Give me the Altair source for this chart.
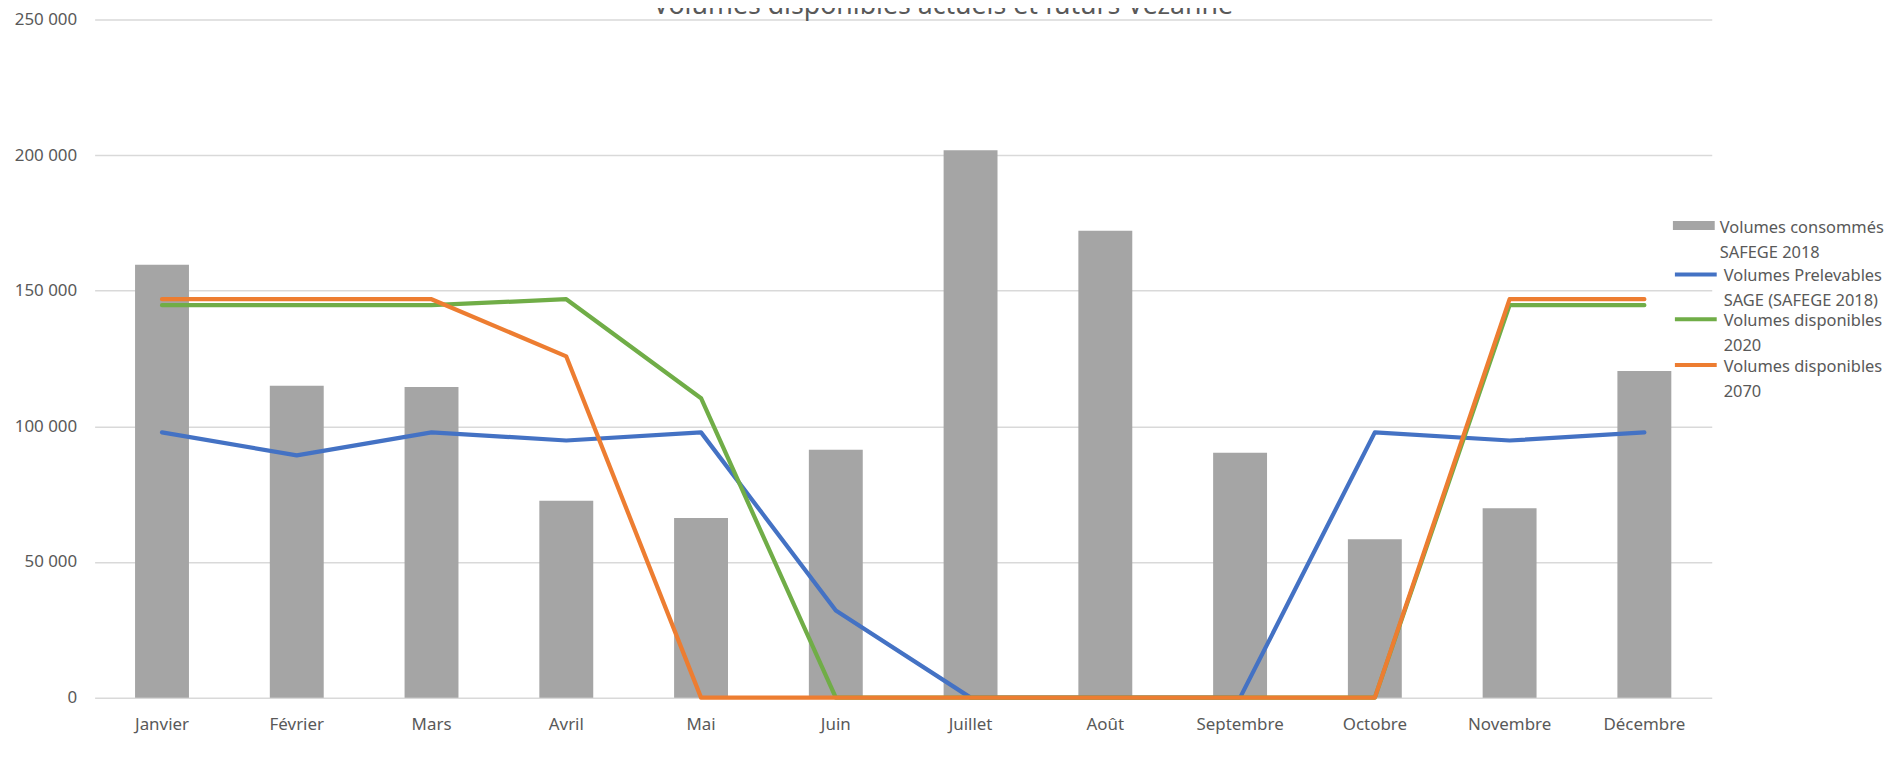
import altair as alt
import pandas as pd

months = ["Janvier", "Février", "Mars", "Avril", "Mai", "Juin", "Juillet",
          "Août", "Septembre", "Octobre", "Novembre", "Décembre"]

bar_name = "Volumes consommés SAFEGE 2018"
blue_name = "Volumes Prelevables SAGE (SAFEGE 2018)"
green_name = "Volumes disponibles 2020"
orange_name = "Volumes disponibles 2070"

consommes = [159600, 115000, 114500, 72600, 66200, 91400,
             201800, 172100, 90300, 58400, 69800, 120400]
prelevables = [97800, 89300, 97800, 94800, 97800, 32100,
               0, 0, 0, 97800, 94800, 97800]
dispo_2020 = [144700, 144700, 144700, 146900, 110400, 0,
              0, 0, 0, 0, 144700, 144700]
dispo_2070 = [146900, 146900, 146900, 125800, 0, 0,
              0, 0, 0, 0, 146900, 146900]

title_text = "Volumes disponibles actuels et futurs Vezanne"
y_ticks = [0, 50000, 100000, 150000, 200000, 250000]

FONT = "Noto Sans"
TXT = "#595959"

bars_df = pd.DataFrame({"mois": months, "valeur": consommes, "serie": bar_name})

def line_df(name, vals):
    return pd.DataFrame({"mois": months, "valeur": vals, "serie": name})

x_enc = alt.X("mois:N", sort=months,
              scale=alt.Scale(paddingInner=0.6, paddingOuter=0.3),
              axis=alt.Axis(title=None, labelAngle=0, domain=False, ticks=False,
                            labelPadding=19, labelFont=FONT, labelFontSize=17,
                            labelColor=TXT, grid=False))
y_enc = alt.Y("valeur:Q",
              scale=alt.Scale(domain=[0, 250000], nice=False),
              axis=alt.Axis(title=None, values=y_ticks, domain=False, ticks=False,
                            labelPadding=18, labelFont=FONT, labelFontSize=17,
                            labelColor=TXT, gridColor="#D9D9D9", gridWidth=1.5,
                            labelExpr="replace(format(datum.value, ',d'), ',', ' ')"))

def split_label():
    return ("datum.label == '%s' ? ['Volumes consommés', 'SAFEGE 2018'] : "
            "datum.label == '%s' ? ['Volumes Prelevables', 'SAGE (SAFEGE 2018)'] : "
            "datum.label == '%s' ? ['Volumes disponibles', '2020'] : "
            "['Volumes disponibles', '2070']") % (bar_name, blue_name, green_name)

def make_legend(y, symbol, stroke_w):
    return alt.Legend(
        title=None, orient="none", legendX=1585, legendY=y,
        symbolType=symbol, symbolSize=1764, symbolStrokeWidth=stroke_w,
        labelFont=FONT, labelFontSize=16.5, labelColor=TXT, labelLimit=400,
        labelExpr=split_label(), labelOffset=5, labelBaseline="alphabetic",
        padding=0,
    )

LINE_SYM = "M-1,-0.333H1"

bars = alt.Chart(bars_df).mark_bar().encode(
    x=x_enc, y=y_enc,
    fill=alt.Fill("serie:N", scale=alt.Scale(domain=[bar_name], range=["#A5A5A5"]),
                  legend=make_legend(193, "M-1,-0.55H1V-0.12H-1Z", 0)),
)

def line_layer(name, vals, color, ly):
    return alt.Chart(line_df(name, vals)).mark_line(
        strokeWidth=4.25, strokeCap="round", strokeJoin="round"
    ).encode(
        x=alt.X("mois:N", sort=months),
        y=alt.Y("valeur:Q"),
        stroke=alt.Stroke("serie:N", scale=alt.Scale(domain=[name], range=[color]),
                          legend=make_legend(ly, LINE_SYM, 4)),
    )

title_df = pd.DataFrame({"titre": [title_text]})
title_layer = alt.Chart(title_df).mark_text(
    font=FONT, fontSize=26.8, color=TXT, align="center", baseline="alphabetic"
).encode(x=alt.value(852), y=alt.value(-6), text="titre:N")

chart = alt.layer(
    bars,
    line_layer(blue_name, prelevables, "#4472C4", 240),
    line_layer(green_name, dispo_2020, "#70AD47", 285),
    line_layer(orange_name, dispo_2070, "#ED7D31", 331),
    title_layer,
).resolve_scale(stroke="independent").properties(
    width=1624, height=681,
    autosize=alt.AutoSizeParams(type="none"),
    padding={"left": 87, "top": 10, "right": 174, "bottom": 49},
).configure(
    background="white",
    style={"guide-label": {"lineHeight": 25}},
).configure_view(stroke=None)

chart.save("out.html", embed_options={"renderer": "svg", "actions": False})
